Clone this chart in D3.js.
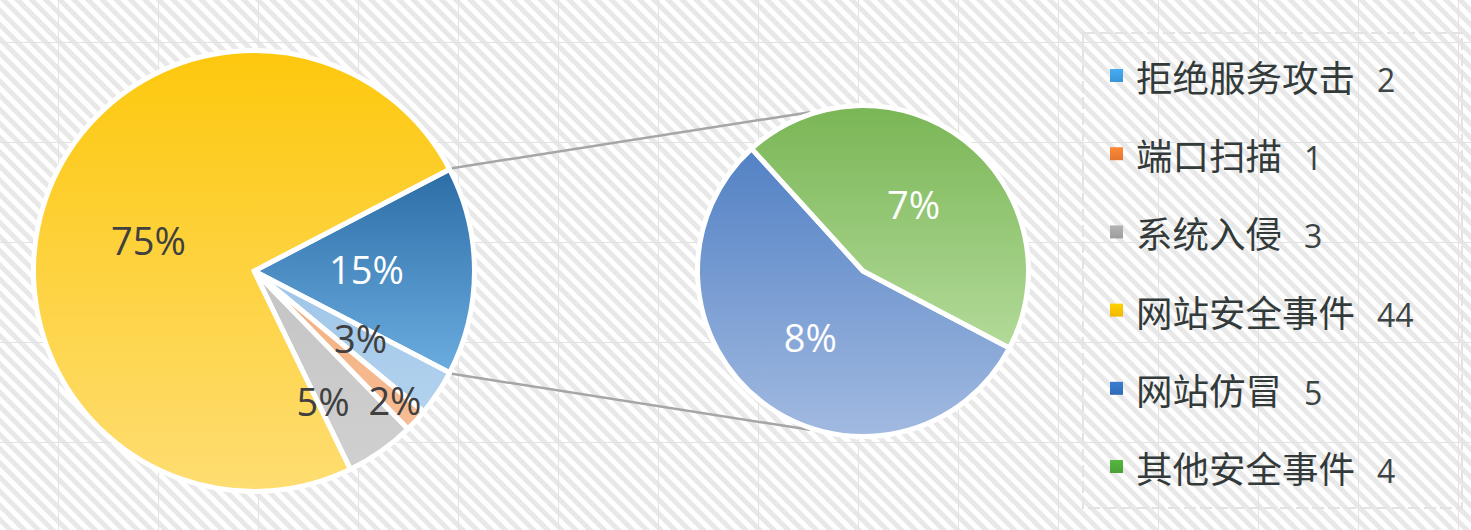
<!DOCTYPE html>
<html>
<head>
<meta charset="utf-8">
<script src="https://cdn.jsdelivr.net/npm/d3@7/dist/d3.min.js"></script>
<style>
  html, body { margin: 0; padding: 0; background: #fff; }
  svg { display: block; }
</style>
</head>
<body>
<svg id="chart" width="1471" height="530"></svg>
<script>
// ---------------- data ----------------
const categories = ["拒绝服务攻击", "端口扫描", "系统入侵", "网站安全事件", "网站仿冒", "其他安全事件"];
const values = [2, 1, 3, 44, 5, 4];
const secondaryCount = 2; // last two categories go to the secondary pie

// ---------------- styles ----------------
const legendColors = ["#3d9ee0", "#ee7d31", "#a5a5a5", "#ffc000", "#3372c0", "#4ea83a"];
// main pie slices in drawing order: [other, 拒绝服务攻击, 端口扫描, 系统入侵, 网站安全事件]
const mainTop    = ["#2c6da7", "#9ec4e6", "#f4ad7c", "#c4c4c4", "#fdc80d"];
const mainBottom = ["#6badE0", "#b3d3ef", "#f6bd95", "#d0d0d0", "#fedd72"];
const mainLabelColor = ["#ffffff", "#404040", "#404040", "#404040", "#404040"];
const mainLabelRadius = [0.51, 0.58, 0.87, 0.68, 0.49];
const mainLabelNudge = [[0, 0], [0, -2], [0, 1], [-17, 9], [-3, 5]];
// secondary pie slices: [网站仿冒, 其他安全事件]
const secTop    = ["#5281c4", "#79b655"];
const secBottom = ["#a2bae1", "#b3da99"];
const secLabelRadius = [0.52, 0.5];

const svg = d3.select("#chart");
const W = 1471, H = 530;
const defs = svg.append("defs");

// background stripes
const pat = defs.append("pattern")
  .attr("id", "stripes").attr("patternUnits", "userSpaceOnUse")
  .attr("width", 10).attr("height", 10)
  .attr("patternTransform", "rotate(-45)");
pat.append("rect").attr("width", 10).attr("height", 10).attr("fill", "#ffffff");
pat.append("rect").attr("x", 0).attr("width", 5).attr("height", 10).attr("fill", "#e8e8e8");

svg.append("rect").attr("width", W).attr("height", H).attr("fill", "url(#stripes)");

// faint grid
const gx = d3.range(58, W, 100), gy = d3.range(42, H, 100);
svg.append("g").selectAll("line.v").data(gx).join("line")
  .attr("x1", d => d + 0.5).attr("x2", d => d + 0.5).attr("y1", 0).attr("y2", H)
  .attr("stroke", "#e2e2e2").attr("stroke-width", 1);
svg.append("g").selectAll("line.h").data(gy).join("line")
  .attr("y1", d => d + 0.5).attr("y2", d => d + 0.5).attr("x1", 0).attr("x2", W)
  .attr("stroke", "#e2e2e2").attr("stroke-width", 1);

function grad(id, top, bottom) {
  const g = defs.append("linearGradient").attr("id", id)
    .attr("x1", 0).attr("y1", 0).attr("x2", 0).attr("y2", 1);
  g.append("stop").attr("offset", "0%").attr("stop-color", top);
  g.append("stop").attr("offset", "100%").attr("stop-color", bottom);
}

const total = d3.sum(values);
const pct = d3.format(".0%");
const nMain = categories.length - secondaryCount;
const otherValue = d3.sum(values.slice(nMain));
const mainData = [{ name: "其他", value: otherValue }]
  .concat(categories.slice(0, nMain).map((c, i) => ({ name: c, value: values[i] })));
const secData = categories.slice(nMain).map((c, i) => ({ name: c, value: values[nMain + i] }));

const rad = Math.PI / 180;
const otherAngle = otherValue / total * 2 * Math.PI;
const mainStart = Math.PI / 2 - otherAngle / 2;

// ---------------- main pie ----------------
const mc = [254, 271], mr = 220.5;
const mainPie = d3.pie().value(d => d.value).sort(null)
  .startAngle(mainStart).endAngle(mainStart + 2 * Math.PI);
const mainArcs = mainPie(mainData);
const mainArc = d3.arc().innerRadius(0).outerRadius(mr);
mainArcs.forEach((a, i) => grad("mg" + i, mainTop[i], mainBottom[i]));

const gMain = svg.append("g").attr("transform", `translate(${mc[0]},${mc[1]})`);
gMain.selectAll("path").data(mainArcs).join("path")
  .attr("d", mainArc)
  .attr("fill", (d, i) => `url(#mg${i})`)
  .attr("stroke", "#ffffff").attr("stroke-width", 5).attr("stroke-linejoin", "round");

gMain.selectAll("text").data(mainArcs).join("text")
  .attr("transform", (d, i) => {
    const m = (d.startAngle + d.endAngle) / 2, r = mr * mainLabelRadius[i];
    return `translate(${Math.sin(m) * r + mainLabelNudge[i][0]},${-Math.cos(m) * r + mainLabelNudge[i][1]})`;
  })
  .attr("text-anchor", "middle").attr("dy", "0.35em")
  .attr("font-family", "'Open Sans', 'Noto Sans', sans-serif").attr("font-size", 38)
  .attr("fill", (d, i) => mainLabelColor[i])
  .text(d => pct(d.value / total));

// ---------------- secondary pie ----------------
const sc = [863, 271], sr = 165.5;
const secStart = 117.7 * rad;
const secPie = d3.pie().value(d => d.value).sort(null)
  .startAngle(secStart).endAngle(secStart + 2 * Math.PI);
const secArcs = secPie(secData);
const secArc = d3.arc().innerRadius(0).outerRadius(sr);
secArcs.forEach((a, i) => grad("sg" + i, secTop[i], secBottom[i]));

// connector lines
const a1 = mainArcs[0].startAngle, a2 = mainArcs[0].endAngle;
const t1 = -18.5 * rad, t2 = 198.5 * rad;
const conn = [
  [[mc[0] + Math.sin(a1) * (mr + 2.5), mc[1] - Math.cos(a1) * (mr + 2.5)],
   [sc[0] + Math.sin(t1) * (sr + 2), sc[1] - Math.cos(t1) * (sr + 2)]],
  [[mc[0] + Math.sin(a2) * (mr + 2.5), mc[1] - Math.cos(a2) * (mr + 2.5)],
   [sc[0] + Math.sin(t2) * (sr + 2), sc[1] - Math.cos(t2) * (sr + 2)]]
];
svg.append("g").selectAll("line").data(conn).join("line")
  .attr("x1", d => d[0][0]).attr("y1", d => d[0][1])
  .attr("x2", d => d[1][0]).attr("y2", d => d[1][1])
  .attr("stroke", "#a6a6a6").attr("stroke-width", 2.5);

const gSec = svg.append("g").attr("transform", `translate(${sc[0]},${sc[1]})`);
gSec.selectAll("path").data(secArcs).join("path")
  .attr("d", secArc)
  .attr("fill", (d, i) => `url(#sg${i})`)
  .attr("stroke", "#ffffff").attr("stroke-width", 5).attr("stroke-linejoin", "round");
gSec.selectAll("text").data(secArcs).join("text")
  .attr("transform", (d, i) => {
    const m = (d.startAngle + d.endAngle) / 2, r = sr * secLabelRadius[i];
    return `translate(${Math.sin(m) * r},${-Math.cos(m) * r})`;
  })
  .attr("text-anchor", "middle").attr("dy", "0.35em")
  .attr("font-family", "'Open Sans', 'Noto Sans', sans-serif").attr("font-size", 38)
  .attr("fill", "#ffffff")
  .text(d => pct(d.value / total));

// ---------------- legend ----------------
svg.append("rect").attr("x", 1083).attr("y", 33).attr("width", 379).attr("height", 475)
  .attr("fill", "none").attr("stroke", "#e3e3e3").attr("stroke-width", 2)
  .attr("stroke-dasharray", "12 4");

const legendY = d3.scalePoint().domain(categories).range([92, 483]);
const lg = svg.append("g").selectAll("g").data(categories).join("g")
  .attr("transform", d => `translate(0,${legendY(d)})`);
legendColors.forEach((c, i) => grad("lg" + i, d3.color(c).brighter(0.25), d3.color(c).darker(0.15)));
lg.append("rect").attr("x", 1110).attr("y", -23).attr("width", 13).attr("height", 13)
  .attr("fill", (d, i) => `url(#lg${i})`);
const lt = lg.append("text").attr("x", 1136).attr("y", 0).attr("fill", "#333a3a");
lt.append("tspan").attr("font-family", "'Noto Sans CJK SC', sans-serif").attr("font-size", 36.5)
  .text(d => d);
lt.append("tspan").attr("dx", 22).attr("font-family", "'Open Sans', sans-serif").attr("font-size", 32)
  .attr("fill", "#3c4444")
  .text((d, i) => values[i]);
</script>
</body>
</html>
